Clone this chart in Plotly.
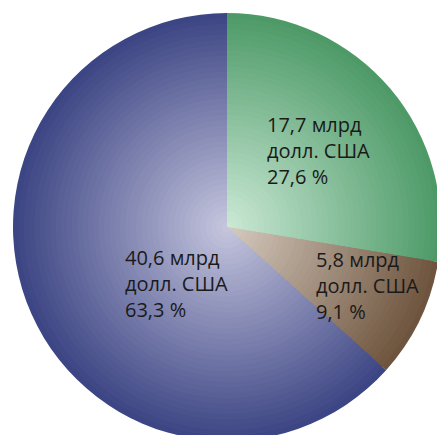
import plotly.graph_objects as go

# доли рынка
names = ['green', 'brown', 'blue']
values = [17.7, 5.8, 40.6]          # млрд долл. США
shares = [27.6, 9.1, 63.3]          # %

center_colors = ['#cbe9d6', '#d6cbc0', '#c6c6de']
outer_colors = ['#4c9966', '#6d533c', '#3b4483']

W, H = 445, 445
cx, cy, R = 227, 227, 214   # px, cy from top
N = 40


def mix(c1, c2, t):
    a = [int(c1[i:i + 2], 16) for i in (1, 3, 5)]
    b = [int(c2[i:i + 2], 16) for i in (1, 3, 5)]
    return '#%02x%02x%02x' % tuple(round(a[i] + (b[i] - a[i]) * t) for i in range(3))


fig = go.Figure()

# radial gradient: stacked pies from outer to inner
for k in range(N):
    r = R * (1 - k / N)
    t = 1 - (k + 0.5) / N
    fig.add_trace(go.Pie(
        labels=names,
        values=values,
        sort=False,
        direction='clockwise',
        rotation=0,
        textinfo='none',
        hoverinfo='skip',
        marker=dict(colors=[mix(center_colors[i], outer_colors[i], t) for i in range(3)],
                    line=dict(width=0)),
        domain=dict(x=[(cx - r) / W, (cx + r) / W],
                    y=[(H - cy - r) / H, (H - cy + r) / H]),
        showlegend=False,
    ))


def fmt(x):
    return ('%.1f' % x).replace('.', ',')


# label blocks: left x, middle line y (px)
label_pos = [(265, 150.5), (314, 285), (123, 283)]
for i in range(3):
    x, y = label_pos[i]
    fig.add_annotation(
        x=x / W, y=1 - y / H, xref='paper', yref='paper',
        xanchor='left', yanchor='middle', align='left', showarrow=False,
        text=f'{fmt(values[i])} млрд<br>долл. США<br>{fmt(shares[i])} %',
        font=dict(family='Open Sans', size=20, color='#1a1a1a'),
    )

fig.update_layout(
    width=W, height=H,
    margin=dict(l=0, r=0, t=0, b=0),
    paper_bgcolor='white',
    plot_bgcolor='white',
)

fig.write_html(
    'out.html',
    config={'displayModeBar': False},
    post_script="document.body.style.margin='0';"
                "document.documentElement.style.overflow='hidden';"
                "document.body.style.overflow='hidden';",
)
